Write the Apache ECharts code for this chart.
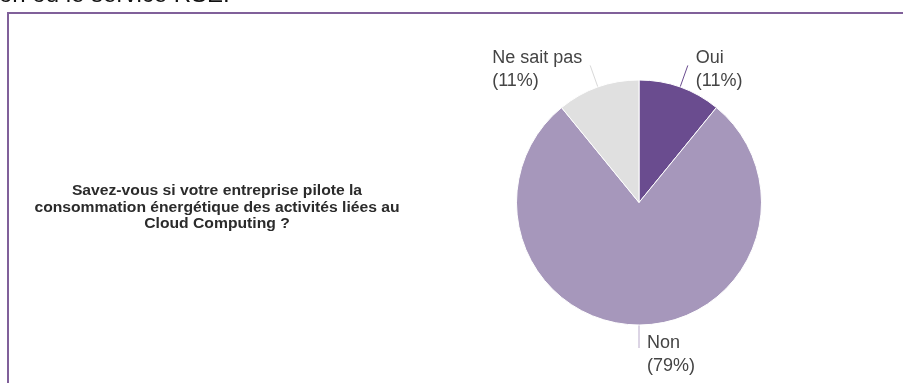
<!DOCTYPE html>
<html>
<head>
<meta charset="utf-8">
<script src="https://cdn.jsdelivr.net/npm/echarts@6/dist/echarts.min.js"></script>
<style>
  html, body { margin: 0; padding: 0; background: #ffffff; }
  #chart { width: 903px; height: 383px; }
</style>
</head>
<body>
<div id="chart"></div>
<script>
// Survey answers and their shares (percent)
const categories = ['Oui', 'Non', 'Ne sait pas'];
const shares = [11, 79, 11];
const sliceColors = ['#6a4c8f', '#a697bb', '#e0e0e0'];
const lineColors = ['#6a4c8f', '#b9aacb', '#d9d9d9'];

const question = 'Savez-vous si votre entreprise pilote la\nconsommation énergétique des activités liées au\nCloud Computing ?';
const leadText = 'on ou le service RSE.';

const chart = echarts.init(document.getElementById('chart'), null, { renderer: 'canvas' });

const pieData = categories.map((name, i) => ({
  name: name,
  value: shares[i],
  itemStyle: { color: sliceColors[i] },
  labelLine: { lineStyle: { color: lineColors[i] } }
}));

chart.setOption({
  animation: false,
  backgroundColor: '#ffffff',
  graphic: [
    {
      type: 'text',
      x: -1,
      y: 7,
      style: {
        text: leadText,
        font: '24px "Liberation Sans", Arial, sans-serif',
        fill: '#111111',
        textVerticalAlign: 'bottom'
      }
    },
    {
      type: 'rect',
      shape: { x: 8, y: 13, width: 1000, height: 500 },
      style: { fill: 'none', stroke: '#80609a', lineWidth: 2 }
    },
    {
      type: 'text',
      x: 217,
      y: 183,
      scaleX: 1.12,
      style: {
        text: question,
        font: 'bold 14px "Liberation Sans", Arial, sans-serif',
        fill: '#2b2b2b',
        align: 'center',
        lineHeight: 16.5
      }
    }
  ],
  series: [
    {
      type: 'pie',
      center: [639, 202.5],
      radius: 122.5,
      startAngle: 90,
      clockwise: true,
      avoidLabelOverlap: false,
      itemStyle: { borderColor: '#ffffff', borderWidth: 1 },
      label: {
        show: true,
        position: 'outside',
        formatter: '{b}\n({c}%)',
        fontFamily: '"Liberation Sans", Arial, sans-serif',
        fontSize: 18,
        lineHeight: 23,
        color: '#444444'
      },
      labelLine: { show: true, length: 23, length2: 0, smooth: false, lineStyle: { width: 1 } },
      // Text block sits beside the end of its leader line, lines left-aligned
      labelLayout: function (p) {
        const pts = p.labelLinePoints;
        if (!pts || !pts.length) return {};
        const start = pts[0];
        const end = pts[pts.length - 1];
        const toLeft = end[0] < start[0] - 0.5;
        const below = end[1] > start[1];
        const w = p.labelRect ? p.labelRect.width : 0;
        return {
          x: toLeft ? end[0] - 8 - w : end[0] + 8,
          y: end[1] + (below ? 7 : 4),
          align: 'left',
          verticalAlign: 'middle',
          labelLinePoints: pts
        };
      },
      emphasis: { disabled: true },
      data: pieData
    }
  ]
});
</script>
</body>
</html>
